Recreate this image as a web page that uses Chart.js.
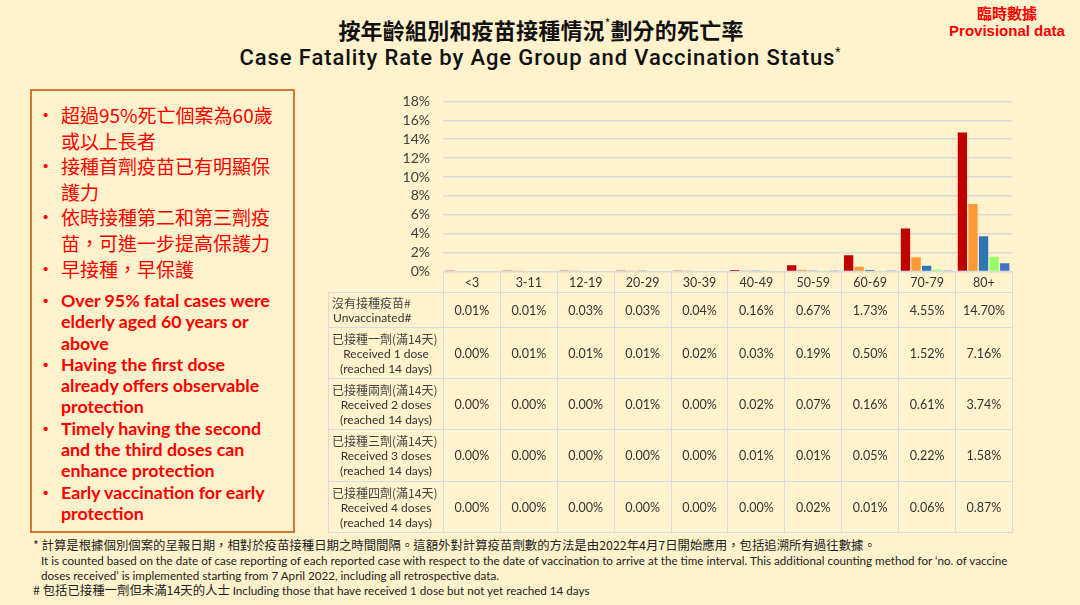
<!DOCTYPE html>
<html lang="zh-Hant">
<head>
<meta charset="utf-8">
<script src="https://cdn.jsdelivr.net/npm/chart.js@4.4.0/dist/chart.umd.min.js"></script>
<style>
  html, body { margin: 0; padding: 0; }
  body {
    width: 1080px; height: 605px; position: relative; overflow: hidden;
    background: #fff2cc;
    font-family: Lato, "Noto Sans CJK TC", sans-serif;
  }
  .title-zh {
    position: absolute; left: 0; top: 15px; width: 1082px; text-align: center;
    font-family: "Noto Sans CJK TC", sans-serif; font-weight: 700; font-size: 22px; line-height: 28px; color: #111;
    letter-spacing: 0.2px;
  }
  .title-en {
    position: absolute; left: 0; top: 44px; width: 1080px; text-align: center;
    font-family: Roboto, sans-serif; font-weight: 500; font-size: 22px; line-height: 28px; color: #111;
    letter-spacing: 0.9px;
  }
  .title-zh sup, .title-en sup { font-size: 12px; vertical-align: top; position: relative; top: -6px; font-weight: 400; letter-spacing: 0; }
  .provisional {
    position: absolute; left: 940px; top: 4px; width: 134px; text-align: center; color: #ff0000;
    font-weight: 700; line-height: 18px;
  }
  .provisional .zh { font-family: "Noto Sans CJK TC", sans-serif; font-size: 15px; }
  .provisional .en { font-family: "Liberation Sans", Arial, sans-serif; font-size: 15px; }
  .notes-box {
    position: absolute; left: 30px; top: 89px; width: 261px; height: 440px;
    border: 2px solid #cf7a35; color: #ff0000;
  }
  .notes-box .zh { position: absolute; left: 0; top: 11px; font-family: "Noto Sans CJK TC", sans-serif; font-weight: 400; font-size: 19px; line-height: 25.6px; }
  .notes-box .en { position: absolute; left: 0; top: 199px; font-family: Lato, sans-serif; font-weight: 700; font-size: 17.8px; line-height: 21.3px; }
  .notes-box .item { position: relative; padding-left: 29px; white-space: nowrap; }
  .notes-box .item::before { content: "\2022"; position: absolute; left: 11px; top: 0; font-family: "Liberation Sans", sans-serif; font-size: 15px; }
  #chartWrap { position: absolute; left: 330px; top: 88px; width: 700px; }
  #dataTable {
    position: absolute; left: 328px; top: 271px; border-collapse: collapse; table-layout: fixed;
    font-family: Lato, "Noto Sans CJK TC", sans-serif; font-size: 12.5px; color: #333;
  }
  #dataTable td { border: 1.5px solid #d6dbe3; text-align: center; vertical-align: middle; padding: 0; line-height: 15px; }
  #dataTable td.corner { border-top: none; border-left: none; }
  #dataTable td.rowhead { font-size: 12px; }
  #dataTable td.rowhead .zh { font-family: "Noto Sans CJK TC", sans-serif; color: #444; text-align: left; padding-left: 3px; white-space: nowrap; }
  #dataTable td.rowhead .en { white-space: nowrap; }
  .foot { position: absolute; color: #222; white-space: nowrap; font-size: 11.65px; line-height: 15px; }
  .foot.zh { font-family: "Noto Sans CJK TC", sans-serif; font-size: 12.4px; }
</style>
</head>
<body>
<div class="title-zh">按年齡組別和疫苗接種情況<sup>*</sup>劃分的死亡率</div>
<div class="title-en">Case Fatality Rate by Age Group and Vaccination Status<sup>*</sup></div>
<div class="provisional"><div class="zh">臨時數據</div><div class="en">Provisional data</div></div>

<div class="notes-box">
  <div class="zh">
    <div class="item">超過95%死亡個案為60歲<br>或以上長者</div>
    <div class="item">接種首劑疫苗已有明顯保<br>護力</div>
    <div class="item">依時接種第二和第三劑疫<br>苗，可進一步提高保護力</div>
    <div class="item">早接種，早保護</div>
  </div>
  <div class="en">
    <div class="item">Over 95% fatal cases were<br>elderly aged 60 years or<br>above</div>
    <div class="item">Having the first dose<br>already offers observable<br>protection</div>
    <div class="item">Timely having the second<br>and the third doses can<br>enhance protection</div>
    <div class="item">Early vaccination for early<br>protection</div>
  </div>
</div>

<div id="chartWrap"><canvas id="cfrChart" width="700" height="192"></canvas></div>
<table id="dataTable"></table>

<div class="foot zh" style="left:33px; top:538px;">* 計算是根據個別個案的呈報日期，相對於疫苗接種日期之時間間隔。這額外對計算疫苗劑數的方法是由2022年4月7日開始應用，包括追溯所有過往數據。</div>
<div class="foot" style="left:41px; top:553px;">It is counted based on the date of case reporting of each reported case with respect to the date of vaccination to arrive at the time interval. This additional counting method for ‘no. of vaccine</div>
<div class="foot" style="left:41px; top:568px;">doses received’ is implemented starting from 7 April 2022, including all retrospective data.</div>
<div class="foot zh" style="left:33px; top:583px;"># 包括已接種一劑但未滿14天的人士 <span style="font-family:Lato, sans-serif; font-size:11.65px;">Including those that have received 1 dose but not yet reached 14 days</span></div>

<script>
  const ageGroups = ["<3", "3-11", "12-19", "20-29", "30-39", "40-49", "50-59", "60-69", "70-79", "80+"];
  const unvaccinated = [0.01, 0.01, 0.03, 0.03, 0.04, 0.16, 0.67, 1.73, 4.55, 14.70];
  const oneDose   = [0.00, 0.01, 0.01, 0.01, 0.02, 0.03, 0.19, 0.50, 1.52, 7.16];
  const twoDoses  = [0.00, 0.00, 0.00, 0.01, 0.00, 0.02, 0.07, 0.16, 0.61, 3.74];
  const threeDoses = [0.00, 0.00, 0.00, 0.00, 0.00, 0.01, 0.01, 0.05, 0.22, 1.58];
  const fourDoses = [0.00, 0.00, 0.00, 0.00, 0.00, 0.00, 0.02, 0.01, 0.06, 0.87];
  const yTicks = [0, 2, 4, 6, 8, 10, 12, 14, 16, 18];

  const rowNamesZh = ["沒有接種疫苗#", "已接種一劑(滿14天)", "已接種兩劑(滿14天)", "已接種三劑(滿14天)", "已接種四劑(滿14天)"];
  const rowNamesEn = [["Unvaccinated#"], ["Received 1 dose", "(reached 14 days)"], ["Received 2 doses", "(reached 14 days)"],
    ["Received 3 doses", "(reached 14 days)"], ["Received 4 doses", "(reached 14 days)"]];
  const rowSeries = [unvaccinated, oneDose, twoDoses, threeDoses, fourDoses];

  // where the plot area should land on the page
  const PLOT_TOP = 101, PLOT_BOTTOM = 271;

  const ctx = document.getElementById("cfrChart").getContext("2d");
  const chart = new Chart(ctx, {
    type: "bar",
    data: {
      labels: ageGroups,
      datasets: [
        { label: rowNamesEn[0][0], data: unvaccinated, backgroundColor: "#c00000" },
        { label: rowNamesEn[1][0], data: oneDose, backgroundColor: "#ff9933" },
        { label: rowNamesEn[2][0], data: twoDoses, backgroundColor: "#2e75b6" },
        { label: rowNamesEn[3][0], data: threeDoses, backgroundColor: "#99ff66" },
        { label: rowNamesEn[4][0], data: fourDoses, backgroundColor: "#4472c4" }
      ]
    },
    options: {
      responsive: false,
      maintainAspectRatio: false,
      animation: false,
      datasets: { bar: { categoryPercentage: 0.93, barPercentage: 0.88 } },
      layout: { padding: { top: 0, right: 18, bottom: 0, left: 0 } },
      plugins: {
        legend: { display: false },
        tooltip: { enabled: false }
      },
      scales: {
        x: { display: false },
        y: {
          min: 0,
          max: 18,
          afterBuildTicks: axis => { axis.ticks = yTicks.map(v => ({ value: v })); },
          afterFit: axis => { axis.width = 113; },
          ticks: {
            autoSkip: false,
            callback: v => v + "%",
            padding: 13,
            color: "#404040",
            font: { family: "Lato", size: 14 }
          },
          grid: { color: "#d9d9d9", lineWidth: 1.5, drawTicks: false },
          border: { display: false }
        }
      }
    }
  });

  // stretch the canvas until the plot is as tall as in the slide, then shift it into place
  function fitPlot() {
    for (let i = 0; i < 4; i++) {
      const a = chart.chartArea;
      const want = PLOT_BOTTOM - PLOT_TOP;
      const h = Math.round(chart.height + want - (a.bottom - a.top));
      if (h === chart.height) break;
      chart.resize(700, h);
    }
    document.getElementById("chartWrap").style.top = (PLOT_TOP - chart.chartArea.top) + "px";
  }

  // data table under the plot, columns follow the chart's x scale
  function buildTable() {
    const xs = chart.scales.x;
    const colW = (xs.right - xs.left) / ageGroups.length;
    const headW = 330 + xs.left - 328;
    const table = document.getElementById("dataTable");
    let html = "<colgroup><col style='width:" + headW + "px'>";
    ageGroups.forEach(() => { html += "<col style='width:" + colW + "px'>"; });
    html += "</colgroup>";
    html += "<tr style='height:21px'><td class='corner'></td>";
    ageGroups.forEach(g => { html += "<td>" + g.replace("<", "&lt;") + "</td>"; });
    html += "</tr>";
    const rowHeights = [35, 51, 51, 52, 51];
    rowSeries.forEach((series, i) => {
      html += "<tr style='height:" + rowHeights[i] + "px'><td class='rowhead'>";
      html += "<div class='zh'>" + rowNamesZh[i] + "</div>";
      rowNamesEn[i].forEach(line => {
        html += "<div class='en'" + (i === 0 ? " style='text-align:left;padding-left:4px'" : "") + ">" + line + "</div>";
      });
      html += "</td>";
      series.forEach(v => { html += "<td>" + v.toFixed(2) + "%</td>"; });
      html += "</tr>";
    });
    table.innerHTML = html;
  }

  fitPlot();
  buildTable();
</script>
</body>
</html>
